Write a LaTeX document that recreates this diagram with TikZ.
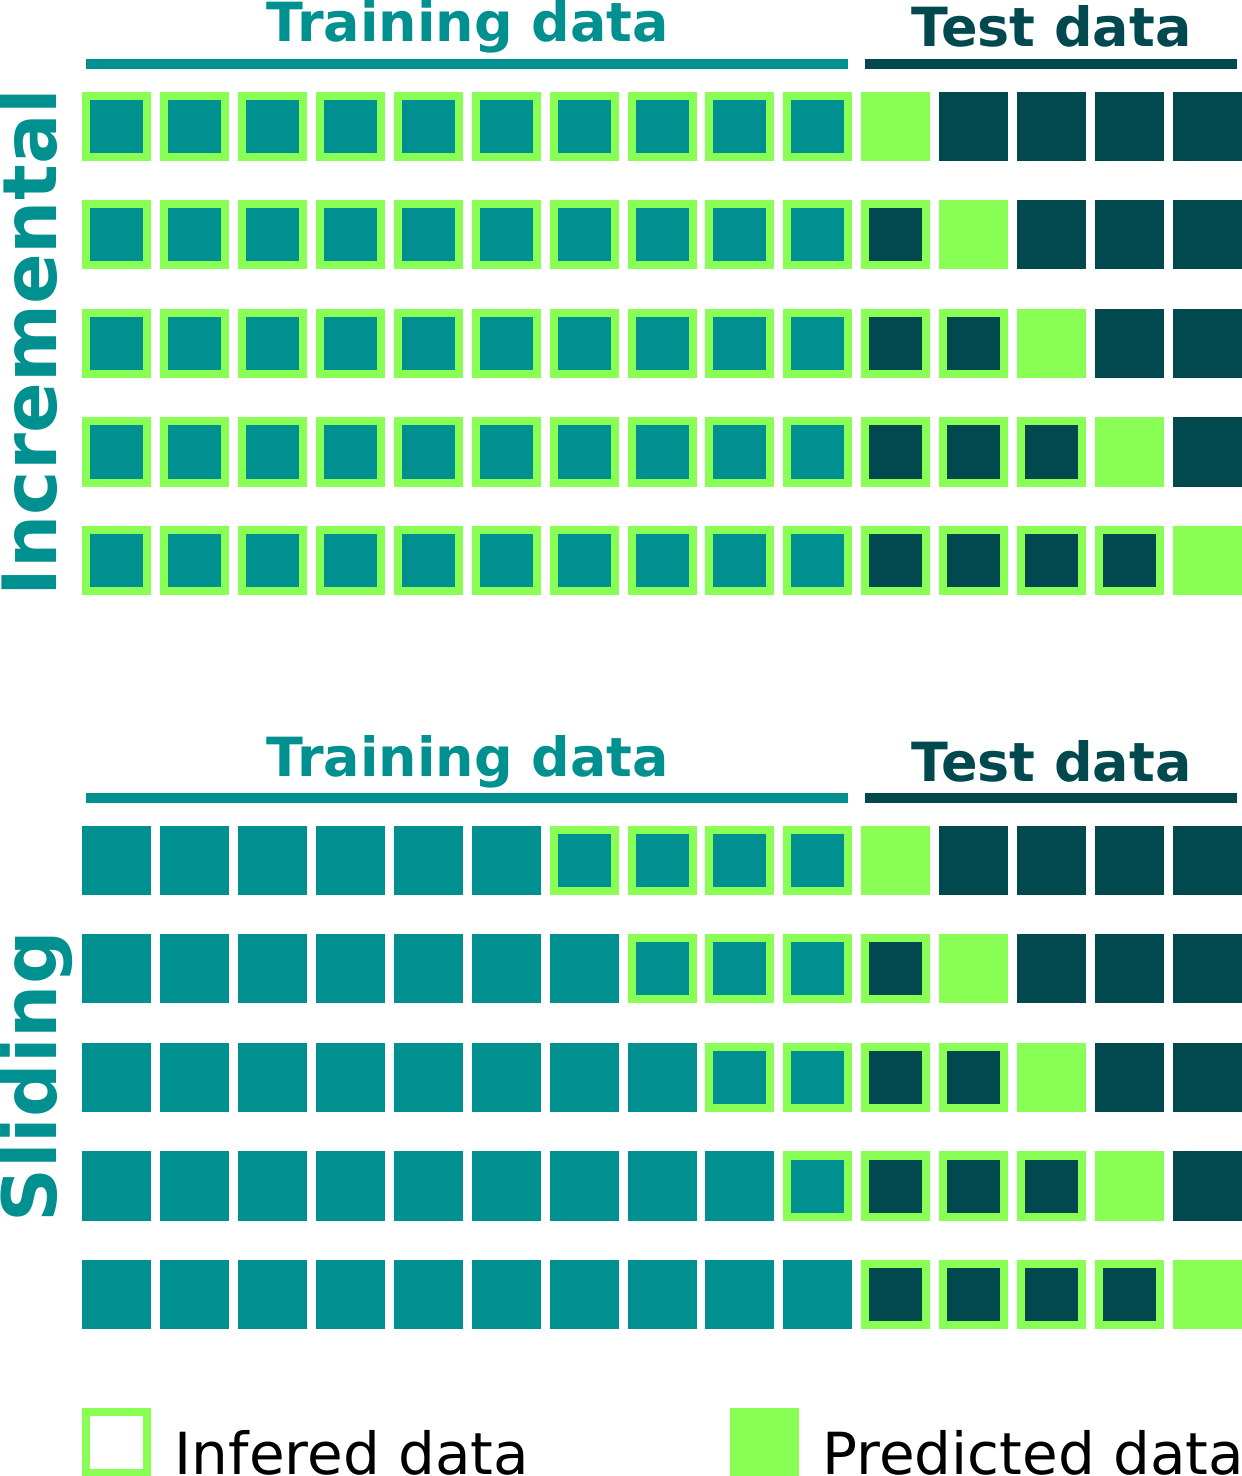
\documentclass[tikz,border=0pt]{standalone}
\usepackage{fontspec}
\setmainfont{DejaVu Sans}
\usetikzlibrary{positioning}
\definecolor{traincol}{HTML}{009090}
\definecolor{testcol}{HTML}{02494F}
\definecolor{predcol}{HTML}{89FF55}

\begin{document}
\begin{tikzpicture}[
  x=0.01cm, y=-0.01cm,
  cell/.style={rectangle, minimum size=0.69cm, inner sep=0pt, outer sep=0pt},
  trainbox/.style={cell, fill=traincol},
  testbox/.style={cell, fill=testcol},
  predbox/.style={cell, fill=predcol},
  inferbox/.style={cell, minimum size=0.61cm, draw=predcol, line width=0.08cm},
  header/.style={anchor=base, inner sep=0pt, font=\fontsize{15.35pt}{18pt}\selectfont\bfseries},
  side/.style={anchor=base, rotate=90, inner sep=0pt, text=traincol,
    font=\fontsize{21.3pt}{25pt}\selectfont\bfseries},
  legend/.style={anchor=base west, inner sep=0pt, font=\fontsize{16.5pt}{20pt}\selectfont},
  trainline/.style={line width=0.1cm, traincol},
  testline/.style={line width=0.1cm, testcol},
]
\useasboundingbox (0,0) rectangle (1241,1476);

% Both schemes: 5 rows x 15 cells
\foreach \sect/\dy/\first in {inc/0/0, sld/734/6}{
  \foreach \r in {0,...,4}{
    \foreach \c in {0,...,14}{
      \pgfmathsetmacro\cx{116.5+77.93*\c}
      \pgfmathsetmacro\cy{126.2+108.6*\r+\dy}
      \pgfmathtruncatemacro\sc{\first+\r*(\first>0)}
      \pgfmathtruncatemacro\pc{10+\r}
      \ifnum\c<\sc
        \node[trainbox] (\sect-\r-\c) at (\cx,\cy) {};
      \else\ifnum\c<10
        \node[trainbox, inferbox] (\sect-\r-\c) at (\cx,\cy) {};
      \else\ifnum\c<\pc
        \node[testbox, inferbox] (\sect-\r-\c) at (\cx,\cy) {};
      \else\ifnum\c=\pc
        \node[predbox] (\sect-\r-\c) at (\cx,\cy) {};
      \else
        \node[testbox] (\sect-\r-\c) at (\cx,\cy) {};
      \fi\fi\fi\fi
    }
  }
  % Headers
  \node[header, text=traincol] (\sect-train) at (467.5,42+\dy) {Training data};
  \node[header, text=testcol] (\sect-test) at (1051.5,47+\dy) {Test data};
  \draw[trainline] (86,64+\dy) -- (847.7,64+\dy);
  \draw[testline] (865,64+\dy) -- (1237,64+\dy);
}

% Side labels
\node[side] (inc-label) at (57,342.5) {Incremental};
\node[side] (sld-label) at (57,1077) {Sliding};

% Legend
\node[inferbox, fill=white] (key-infer) at (116.5,1442.5) {};
\node[legend] (key-infer-text) at (174,1474) {Infered data};
\node[predbox] (key-pred) at (764.5,1442.5) {};
\node[legend] (key-pred-text) at (822,1474) {Predicted data};
\end{tikzpicture}
\end{document}
